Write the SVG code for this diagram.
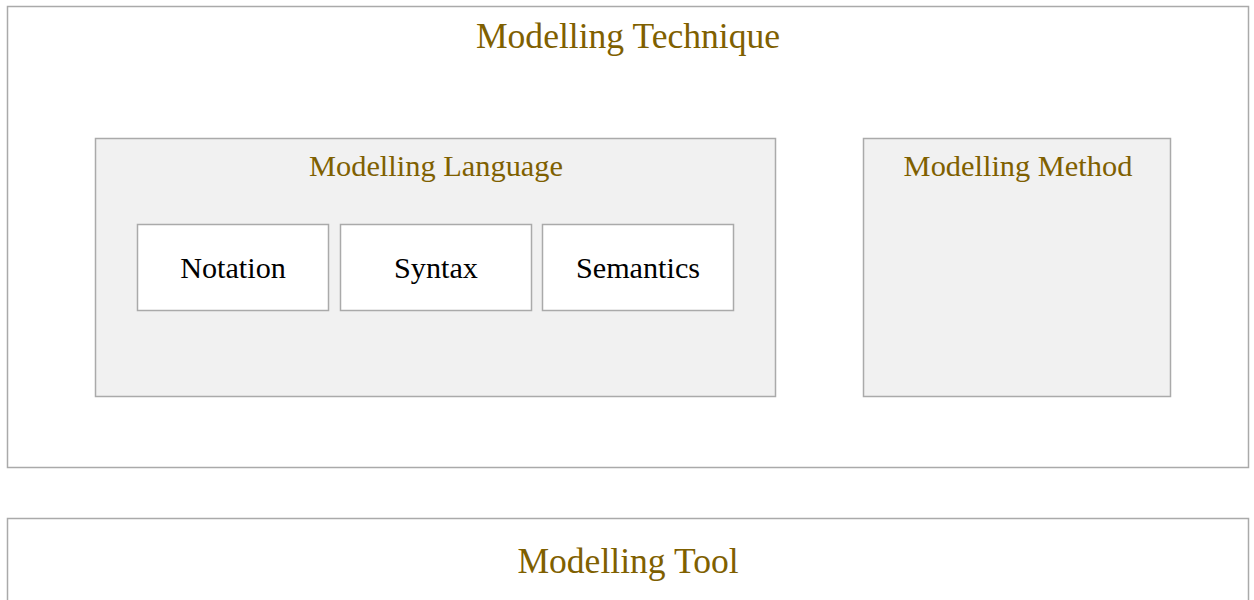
<svg xmlns="http://www.w3.org/2000/svg" width="1254" height="600" viewBox="0 0 1254 600">
<style>
.box{stroke:#aaaaaa;stroke-width:1.5}
.outer{fill:#ffffff}
.group{fill:#f1f1f1}
.leaf{fill:#ffffff}
.t{font-family:"Liberation Serif","Times New Roman",serif;text-anchor:middle}
.h1{font-size:35.6px;fill:#7f6000}
.h2{font-size:30.4px;fill:#7f6000}
.lb{font-size:30.2px;fill:#000000}
</style>
<rect width="1254" height="600" fill="#ffffff"/>
<g id="modelling-technique">
<rect class="box outer" x="7.5" y="6.5" width="1241" height="461"/>
<text class="t h1" x="628" y="48">Modelling Technique</text>
</g>
<g id="modelling-language">
<rect class="box group" x="95.5" y="138.5" width="680" height="258"/>
<text class="t h2" x="436" y="176">Modelling Language</text>
</g>
<g id="notation">
<rect class="box leaf" x="137.5" y="224.5" width="191" height="86"/>
<text class="t lb" x="233" y="278">Notation</text>
</g>
<g id="syntax">
<rect class="box leaf" x="340.5" y="224.5" width="191" height="86"/>
<text class="t lb" x="436" y="278">Syntax</text>
</g>
<g id="semantics">
<rect class="box leaf" x="542.5" y="224.5" width="191" height="86"/>
<text class="t lb" x="638" y="278">Semantics</text>
</g>
<g id="modelling-method">
<rect class="box group" x="863.5" y="138.5" width="307" height="258"/>
<text class="t h2" x="1018" y="176">Modelling Method</text>
</g>
<g id="modelling-tool">
<rect class="box outer" x="7.5" y="518.5" width="1241" height="120"/>
<text class="t h1" x="628" y="573">Modelling Tool</text>
</g>
<g id="connectors"></g>
</svg>
